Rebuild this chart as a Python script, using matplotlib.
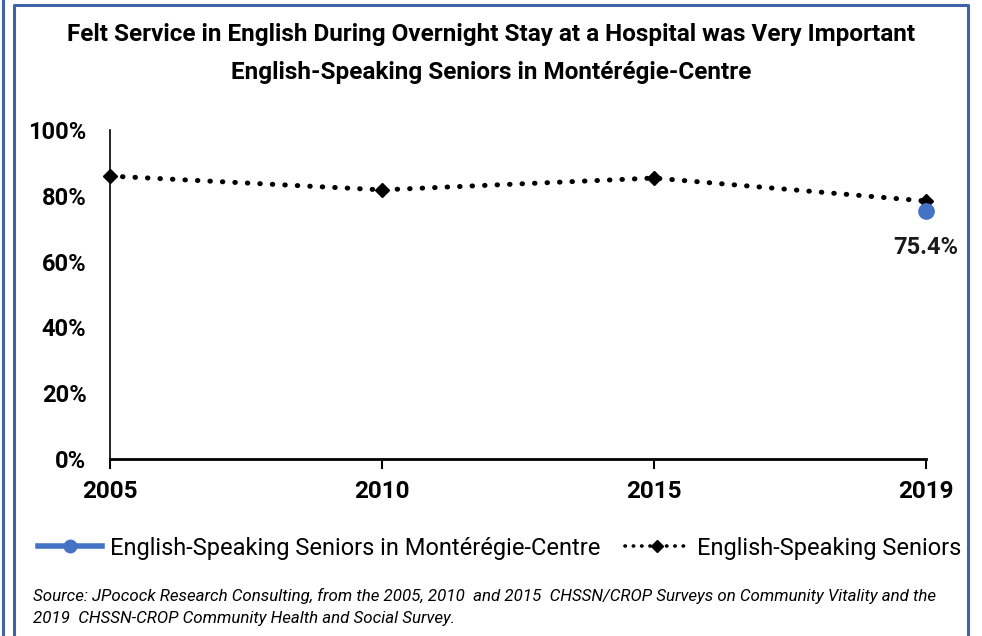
import matplotlib.pyplot as plt
from matplotlib.lines import Line2D
import numpy as np

plt.rcParams['font.family'] = ['Roboto', 'DejaVu Sans']

years = ['2005', '2010', '2015', '2019']
monteregie = [np.nan, np.nan, np.nan, 75.4]
all_seniors = [86.0, 81.8, 85.4, 78.4]
y_ticks = [0, 20, 40, 60, 80, 100]
y_tick_labels = ['0%', '20%', '40%', '60%', '80%', '100%']

blue = '#4472C4'
frame = '#3F62A8'

fig = plt.figure(figsize=(9.82, 6.36), dpi=100)
W, H = 982, 636

# frame lines around the chart
fig.add_artist(Line2D([2.5 / W, 2.5 / W], [0, 1], color=frame, lw=2.2))
fig.add_artist(Line2D([13.5 / W, 13.5 / W, 968 / W, 968 / W],
                      [0, 1 - 4.5 / H, 1 - 4.5 / H, 0], color=frame, lw=2.2))

ax = fig.add_axes([110 / W, 1 - 459 / H, (926 - 110) / W, (459 - 130) / H])
x = np.arange(len(years))

dots = (0, (0.1, 2.4))
ax.plot(x, all_seniors, color='black', lw=3.6, linestyle=dots,
        dash_capstyle='round', marker='D', markersize=7, clip_on=False,
        zorder=3, label='English-Speaking Seniors')
ax.plot(x, monteregie, color=blue, lw=4, marker='o', markersize=11,
        clip_on=False, zorder=4,
        label='English-Speaking Seniors in Montérégie-Centre')
ax.text(x[-1], monteregie[-1] - 7.5, f'{monteregie[-1]:.1f}%', ha='center',
        va='top', fontsize=17, fontweight='bold', color='#1a1a1a')

ax.set_xlim(0, 3)
ax.set_ylim(0, 100)
ax.set_xticks(x)
ax.set_xticklabels(years, fontsize=17.5, fontweight='bold')
ax.set_yticks(y_ticks)
ax.set_yticklabels(y_tick_labels, fontsize=17, fontweight='bold')
ax.tick_params(axis='y', length=0, pad=17)
ax.tick_params(axis='x', length=7, width=1.5, direction='out', pad=8)
for s in ['top', 'right']:
    ax.spines[s].set_visible(False)
ax.spines['left'].set_linewidth(1.2)
ax.spines['bottom'].set_linewidth(2)

fig.text(0.5, 1 - 35 / H, 'Felt Service in English During Overnight Stay at a Hospital was Very Important',
         ha='center', va='center', fontsize=17.5, fontweight='bold')
fig.text(0.5, 1 - 73 / H, 'English-Speaking Seniors in Montérégie-Centre',
         ha='center', va='center', fontsize=17.5, fontweight='bold')

handles = [Line2D([], [], color=blue, lw=4, marker='o', markersize=9),
           Line2D([], [], color='black', lw=2.6, linestyle=(0, (0.1, 2.2)),
                  dash_capstyle='round', marker='D', markersize=6)]
labels = ['English-Speaking Seniors in Montérégie-Centre', 'English-Speaking Seniors']
fig.legend(handles, labels, loc='center', bbox_to_anchor=(500 / W, 1 - 548 / H),
           ncol=2, frameon=False, fontsize=17, handlelength=2.7,
           handletextpad=0.35, columnspacing=1.05, borderpad=0, borderaxespad=0)

fig.text(33 / W, 1 - 596 / H,
         'Source: JPocock Research Consulting, from the 2005, 2010  and 2015  CHSSN/CROP Surveys on Community Vitality and the',
         ha='left', va='center', fontsize=12.2, style='italic')
fig.text(33 / W, 1 - 618 / H,
         '2019  CHSSN-CROP Community Health and Social Survey.',
         ha='left', va='center', fontsize=12.2, style='italic')

fig.savefig('out.png', dpi=100)
